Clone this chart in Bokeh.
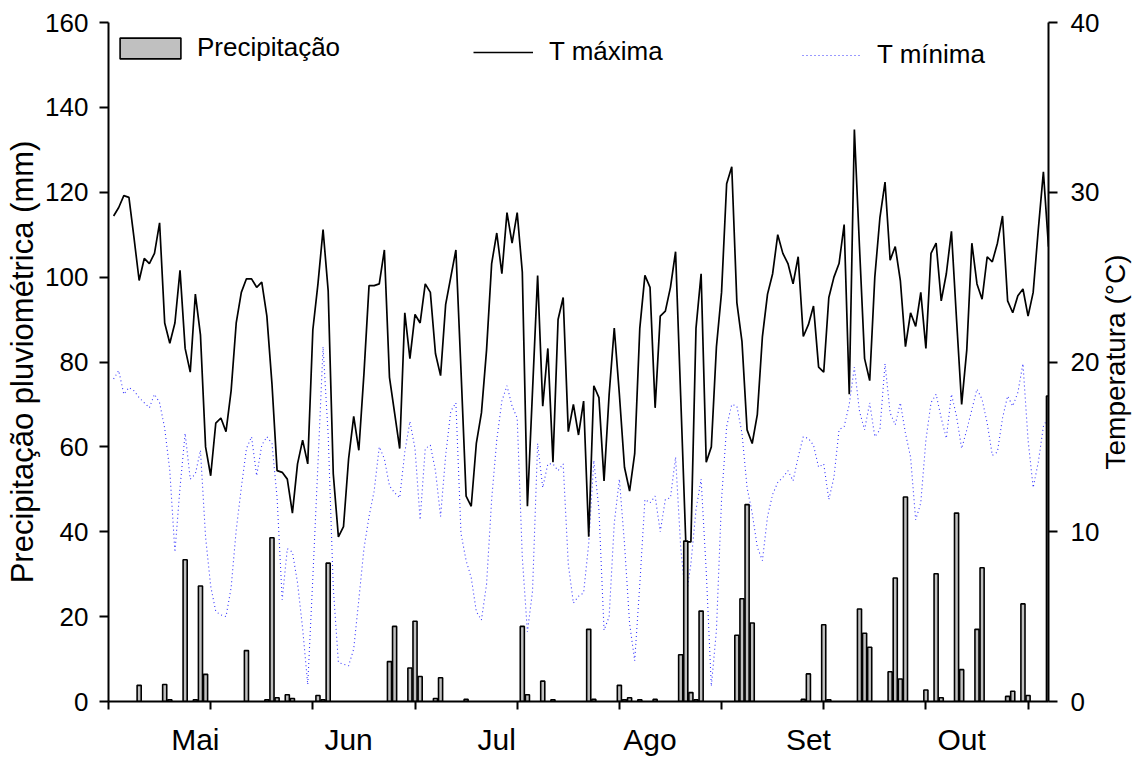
import math
from bokeh.plotting import figure
from bokeh.models import Range1d, LinearAxis, FixedTicker, Legend, LegendItem, Label
from bokeh.embed import file_html
from bokeh.resources import INLINE

FONT = "Liberation Sans"

# day of year (1 May .. 31 Oct)
days = list(range(121, 305))

# maximum temperature (deg C)
tmax = [28.6, 29.1, 29.8, 29.7, 27.3, 24.8, 26.1, 25.8, 26.4, 28.2,
        22.3, 21.1, 22.3, 25.4, 20.8, 19.4, 24.0, 21.6, 15.0, 13.3,
        16.4, 16.7, 15.9, 18.3, 22.3, 24.1, 24.9, 24.9, 24.4, 24.7,
        22.7, 18.7, 13.6, 13.5, 13.1, 11.1, 14.0, 15.4, 14.0, 21.9,
        24.6, 27.8, 24.2, 13.4, 9.7, 10.3, 14.3, 16.8, 14.8, 19.3,
        24.5, 24.5, 24.6, 26.6, 19.1, 17.0, 14.9, 22.9, 20.2, 22.8,
        22.3, 24.6, 24.1, 20.5, 19.2, 23.4, 25.0, 26.6, 19.5, 12.1,
        11.5, 15.2, 17.0, 20.7, 25.8, 27.6, 25.2, 28.8, 27.0, 28.8,
        25.3, 11.5, 18.3, 25.1, 17.4, 20.8, 14.1, 22.5, 23.8, 15.9,
        17.5, 15.7, 17.7, 9.7, 18.6, 17.9, 13.0, 18.1, 22.0, 18.1,
        13.8, 12.4, 14.6, 22.0, 25.1, 24.4, 17.3, 22.7, 23.0, 24.4,
        26.5, 18.0, 9.4, 9.4, 22.0, 25.2, 14.1, 15.0, 20.9, 24.1,
        30.5, 31.5, 23.5, 21.2, 16.0, 15.2, 16.9, 21.5, 24.0, 25.2,
        27.5, 26.4, 25.8, 24.6, 26.2, 21.5, 22.2, 23.3, 19.7, 19.4,
        23.8, 25.0, 25.8, 28.1, 18.1, 33.7, 26.8, 20.2, 18.9, 25.0,
        28.5, 30.6, 26.0, 26.8, 24.8, 20.9, 22.9, 22.1, 24.1, 20.8,
        26.4, 27.0, 23.6, 25.2, 27.7, 22.5, 17.5, 20.7, 27.0, 24.6,
        23.7, 26.2, 25.9, 27.0, 28.6, 23.6, 22.9, 23.9, 24.3, 22.7,
        24.1, 27.8, 31.2, 26.8]

# minimum temperature (deg C)
tmin = [19.0, 19.5, 18.1, 18.5, 18.3, 17.9, 17.6, 17.3, 18.1, 17.6,
        16.1, 13.6, 8.8, 12.6, 15.8, 13.1, 13.4, 14.8, 9.7, 6.8,
        5.3, 5.1, 5.0, 6.7, 10.1, 12.6, 14.9, 15.6, 13.3, 15.1,
        15.6, 15.2, 12.0, 6.0, 9.0, 8.8, 7.0, 4.3, 1.0, 7.3,
        14.0, 20.9, 15.7, 6.7, 2.3, 2.2, 2.1, 3.1, 6.0, 9.0,
        10.9, 12.4, 15.0, 14.3, 12.7, 12.3, 12.0, 14.7, 16.5, 14.9,
        10.7, 14.9, 15.1, 13.6, 10.9, 14.5, 17.1, 17.6, 9.9, 8.3,
        7.3, 5.3, 4.8, 6.9, 11.9, 15.4, 17.7, 18.6, 17.4, 16.7,
        8.5, 4.1, 6.5, 15.2, 12.6, 14.0, 14.0, 13.6, 14.0, 8.1,
        5.8, 6.2, 6.4, 9.3, 14.2, 11.3, 4.2, 5.0, 10.5, 13.1,
        9.3, 4.6, 2.4, 6.9, 11.9, 11.7, 12.1, 10.0, 11.9, 12.0,
        14.4, 9.1, 6.0, 8.1, 11.3, 13.1, 7.7, 0.9, 4.2, 11.9,
        16.2, 17.5, 17.4, 15.8, 12.6, 11.1, 9.1, 8.3, 10.9, 12.2,
        12.9, 13.2, 13.6, 13.0, 14.4, 15.6, 15.5, 15.1, 13.8, 14.0,
        11.9, 13.2, 16.0, 16.2, 17.5, 19.7, 17.1, 16.0, 17.6, 15.6,
        16.0, 19.9, 17.0, 16.3, 17.6, 15.8, 14.4, 10.7, 11.7, 15.4,
        17.6, 18.1, 16.7, 15.5, 18.1, 16.8, 14.9, 16.0, 17.2, 18.4,
        17.8, 16.4, 14.5, 14.7, 16.7, 18.0, 17.4, 18.2, 19.9, 15.4,
        12.6, 14.1, 16.2, 16.8]

# daily rainfall (mm), only days with rain
rain_days = [126, 131, 132, 135, 137, 138, 139, 147, 151, 152, 153, 155, 156,
             161, 162, 163, 175, 176, 179, 180, 181, 184, 185, 190, 201, 202,
             205, 207, 214, 215, 220, 221, 222, 224, 227, 232, 233, 234, 235,
             236, 243, 244, 245, 246, 256, 257, 260, 261, 267, 268, 269, 273,
             274, 275, 276, 280, 282, 283, 286, 287, 290, 291, 296, 297, 299,
             300, 304]
rain_mm = [3.8, 4.0, 0.4, 33.4, 0.4, 27.2, 6.4, 12.0, 0.4, 38.6, 0.9, 1.6, 0.7,
           1.4, 0.4, 32.6, 9.4, 17.7, 7.9, 18.9, 5.9, 0.7, 5.6, 0.5, 17.7, 1.6,
           4.8, 0.4, 17.0, 0.5, 3.8, 0.4, 0.9, 0.4, 0.5, 11.0, 37.8, 2.1, 0.4,
           21.3, 15.6, 24.2, 46.4, 18.5, 0.5, 6.5, 18.1, 0.4, 21.8, 16.1, 12.8, 7.0,
           29.1, 5.3, 48.2, 2.7, 30.1, 0.9, 44.4, 7.5, 17.0, 31.5, 1.2, 2.4, 23.0,
           1.4, 72.0]

month_names = ["Mai", "Jun", "Jul", "Ago", "Set", "Out"]
month_centers = [137, 167, 196, 226, 257, 287]
x_ticks = [120, 140, 160, 180, 200, 220, 240, 260, 280, 300]
left_ticks = [0, 20, 40, 60, 80, 100, 120, 140, 160]
right_ticks = [0, 10, 20, 30, 40]

p = figure(frame_width=940, frame_height=679,
           x_range=Range1d(120, 304), y_range=Range1d(0, 160),
           output_backend="svg", toolbar_location=None,
           min_border_left=108, min_border_right=90,
           min_border_top=22, min_border_bottom=56)
p.outline_line_color = None
p.xgrid.visible = False
p.ygrid.visible = False
p.extra_y_ranges = {"temp": Range1d(0, 40)}

lmin = p.line(days, tmin, y_range_name="temp", line_color="#0000ff",
              line_width=1.1, line_dash="1 3", line_alpha=0.8)
lmax = p.line(days, tmax, y_range_name="temp", line_color="black", line_width=1.7)
bars = p.vbar(x=rain_days, top=rain_mm, width=0.8, fill_color="#c0c0c0",
              line_color="black", line_width=1.6)

# bottom axis
xa = p.xaxis[0]
xa.ticker = FixedTicker(ticks=month_centers, minor_ticks=x_ticks)
xa.major_label_overrides = {c: n for c, n in zip(month_centers, month_names)}
xa.major_tick_line_color = None
xa.major_tick_out = 8
xa.major_tick_in = 0
xa.minor_tick_line_color = "black"
xa.minor_tick_line_width = 2
xa.minor_tick_out = 8
xa.minor_tick_in = 0
xa.axis_line_width = 2
xa.major_label_text_font = FONT
xa.major_label_text_font_size = "30px"
xa.major_label_text_color = "black"
xa.major_label_standoff = 13

# left axis
ya = p.yaxis[0]
ya.ticker = FixedTicker(ticks=left_ticks, minor_ticks=[])
ya.minor_tick_line_color = None
ya.major_tick_out = 9
ya.major_tick_in = 0
ya.major_tick_line_width = 2
ya.axis_line_width = 2
ya.major_label_text_font = FONT
ya.major_label_text_font_size = "26px"
ya.major_label_text_color = "black"
ya.major_label_standoff = 11
ya.axis_label = "Precipitação pluviométrica (mm)"
ya.axis_label_text_font = FONT
ya.axis_label_text_font_size = "31px"
ya.axis_label_text_font_style = "normal"
ya.axis_label_text_color = "black"
ya.axis_label_standoff = 2

# right axis
ra = LinearAxis(y_range_name="temp",
                ticker=FixedTicker(ticks=right_ticks, minor_ticks=[]))
ra.minor_tick_line_color = None
ra.major_tick_out = 9
ra.major_tick_in = 0
ra.major_tick_line_width = 2
ra.axis_line_width = 2
ra.major_label_text_font = FONT
ra.major_label_text_font_size = "26px"
ra.major_label_text_color = "black"
ra.major_label_standoff = 13
p.add_layout(ra, "right")

# right axis title, reading bottom-to-top, placed in the right side panel
p.add_layout(Label(x=13, y=339.5, x_units="screen", y_units="screen",
                   text="Temperatura (°C)", angle=math.pi / 2,
                   text_align="center", text_baseline="middle",
                   text_font=FONT, text_font_size="28px", text_color="black"),
             "right")


def make_legend(label, rend, loc, gw, gh, standoff):
    lg = Legend(items=[LegendItem(label=label, renderers=[rend])], location=loc)
    lg.border_line_color = None
    lg.background_fill_alpha = 0
    lg.padding = 0
    lg.margin = 0
    lg.spacing = 0
    lg.glyph_width = gw
    lg.glyph_height = gh
    lg.label_standoff = standoff
    lg.label_height = 20
    lg.label_text_font = FONT
    lg.label_text_font_size = "26px"
    lg.label_text_color = "black"
    return lg


p.add_layout(make_legend("Precipitação", bars, (4, 638), 76, 26, 9))
p.add_layout(make_legend("T máxima", lmax, (365, 634), 60, 20, 16))
p.add_layout(make_legend("T mínima", lmin, (694, 631), 58, 20, 17))

open("out.html", "w").write(file_html(p, INLINE, "plot"))
